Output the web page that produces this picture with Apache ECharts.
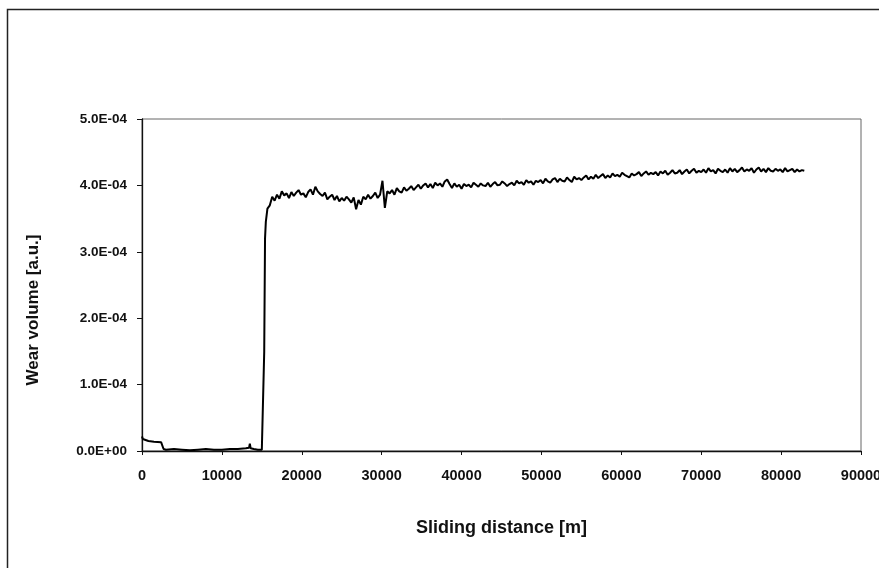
<!DOCTYPE html>
<html>
<head>
<meta charset="utf-8">
<script src="https://cdn.jsdelivr.net/npm/echarts@6/dist/echarts.min.js"></script>
<style>
html,body{margin:0;padding:0;background:#fff;}
#c{width:879px;height:568px;}
</style>
</head>
<body>
<div id="c"></div>
<script>
// Sliding distance [m]
var distanceEarly = [0, 100, 300, 800, 1500, 2400, 2500, 2700, 3000, 4000, 5000, 6000, 7000, 8000, 9000, 10000, 11000, 12000, 13000, 13400, 13500, 13600, 14000, 14500, 15000, 15200, 15300, 15400, 15500, 15700];
// Wear volume in units of 1E-06 a.u.
var wearEarly = [22, 18, 16, 15, 14, 13, 13, 3, 2, 3, 2, 1, 2, 3, 2, 2, 3, 3, 4, 5, 11, 4, 3, 2, 2, 5, 150, 320, 345, 365];

var distanceLate = [
 16000,16300,16600,16900,17200,17500,17800,18100,18400,18700,
 19000,19300,19600,19900,20200,20500,20800,21100,21400,21700,
 22000,22300,22600,22900,23200,23500,23800,24100,24400,24700,
 25000,25300,25600,25900,26200,26500,26800,27100,27400,27700,
 28000,28300,28600,28900,29200,29500,29800,30100,30400,30700,
 31000,31300,31600,31900,32200,32500,32800,33100,33400,33700,
 34000,34300,34600,34900,35200,35500,35800,36100,36400,36700,
 37000,37300,37600,37900,38200,38500,38800,39100,39400,39700,
 40000,40300,40600,40900,41200,41500,41800,42100,42400,42700,
 43000,43300,43600,43900,44200,44500,44800,45100,45400,45700,
 46000,46300,46600,46900,47200,47500,47800,48100,48400,48700,
 49000,49300,49600,49900,50200,50500,50800,51100,51400,51700,
 52000,52300,52600,52900,53200,53500,53800,54100,54400,54700,
 55000,55300,55600,55900,56200,56500,56800,57100,57400,57700,
 58000,58300,58600,58900,59200,59500,59800,60100,60400,60700,
 61000,61300,61600,61900,62200,62500,62800,63100,63400,63700,
 64000,64300,64600,64900,65200,65500,65800,66100,66400,66700,
 67000,67300,67600,67900,68200,68500,68800,69100,69400,69700,
 70000,70300,70600,70900,71200,71500,71800,72100,72400,72700,
 73000,73300,73600,73900,74200,74500,74800,75100,75400,75700,
 76000,76300,76600,76900,77200,77500,77800,78100,78400,78700,
 79000,79300,79600,79900,80200,80500,80800,81100,81400,81700,
 82000,82300,82600,82900
];
var wearLate = [
 370,383,377,386,380,391,385,388,381,390,
 384,389,393,386,388,382,390,394,386,398,
 391,387,384,389,379,383,386,378,384,376,
 381,377,383,379,374,382,364,378,371,383,
 379,386,380,384,389,381,386,407,366,391,
 388,393,386,396,391,389,397,392,395,399,
 393,397,401,395,400,403,397,402,396,404,
 400,403,398,406,409,402,396,403,398,401,
 395,402,399,401,397,404,401,398,403,400,
 399,404,398,402,405,400,401,406,403,399,
 402,404,400,407,403,405,401,408,404,406,
 401,407,405,408,403,410,406,404,409,411,
 405,410,407,406,412,408,405,413,409,411,
 408,412,415,409,413,410,416,411,414,417,
 411,415,412,418,414,416,413,419,416,414,
 412,418,415,417,420,414,418,421,416,419,
 417,420,415,421,418,422,416,419,423,418,
 419,423,417,421,424,418,422,425,419,422,
 420,424,419,426,421,423,418,425,422,420,
 424,419,426,421,425,420,423,427,421,424,
 422,426,419,424,427,421,425,420,426,422,
 421,425,422,424,420,426,421,423,425,420,
 424,421,423,422
];
var xTicks = [0, 10000, 20000, 30000, 40000, 50000, 60000, 70000, 80000, 90000];
var yTickLabels = ['0.0E+00', '1.0E-04', '2.0E-04', '3.0E-04', '4.0E-04', '5.0E-04'];

var distance = distanceEarly.concat(distanceLate);
var wear = wearEarly.concat(wearLate);
var seriesData = distance.map(function (d, i) { return [d, wear[i]]; });

var chart = echarts.init(document.getElementById('c'), null, {renderer: 'canvas'});
var font = 'Liberation Sans, Arial, sans-serif';
chart.setOption({
  animation: false,
  backgroundColor: '#fff',
  graphic: [{
    type: 'rect',
    shape: {x: 7.5, y: 9.5, width: 900, height: 600},
    style: {fill: 'none', stroke: '#222', lineWidth: 1.5},
    silent: true
  }, {
    type: 'text',
    x: 33, y: 310,
    rotation: Math.PI / 2,
    style: {
      text: 'Wear volume [a.u.]',
      fontFamily: font, fontWeight: 'bold', fontSize: 17,
      fill: '#111', align: 'center', verticalAlign: 'middle'
    },
    silent: true
  }],
  grid: {
    left: 142, right: 18, top: 119, bottom: 117,
    containLabel: false,
    outerBoundsMode: 'none',
    show: true, borderColor: '#666', borderWidth: 1, backgroundColor: 'transparent'
  },
  xAxis: {
    type: 'value',
    min: 0, max: 90000, interval: 10000,
    name: 'Sliding distance [m]',
    nameLocation: 'middle',
    nameGap: 68,
    nameTextStyle: {fontFamily: font, fontWeight: 'bold', fontSize: 18, color: '#111'},
    axisLine: {show: true, onZero: false, lineStyle: {color: '#111', width: 1.3}},
    axisTick: {show: true, inside: false, length: 4, lineStyle: {color: '#111'}},
    splitLine: {show: false},
    axisLabel: {
      fontFamily: font, fontWeight: 'bold', fontSize: 14.5, color: '#111', margin: 17,
      showMaxLabel: true, showMinLabel: true, hideOverlap: false,
      formatter: function (v) { return xTicks.indexOf(v) >= 0 ? String(v) : ''; }
    }
  },
  yAxis: {
    type: 'value',
    min: 0, max: 500, interval: 100,
    axisLine: {show: true, lineStyle: {color: '#111', width: 1.3}},
    axisTick: {show: true, inside: false, length: 5, lineStyle: {color: '#111'}},
    splitLine: {show: false},
    axisLabel: {
      fontFamily: font, fontWeight: 'bold', fontSize: 13.5, color: '#111', margin: 15,
      formatter: function (v) { return yTickLabels[Math.round(v / 100)]; }
    }
  },
  series: [{
    type: 'line',
    data: seriesData,
    showSymbol: false,
    symbol: 'none',
    lineStyle: {color: '#000', width: 2},
    clip: true
  }]
});
</script>
</body>
</html>
